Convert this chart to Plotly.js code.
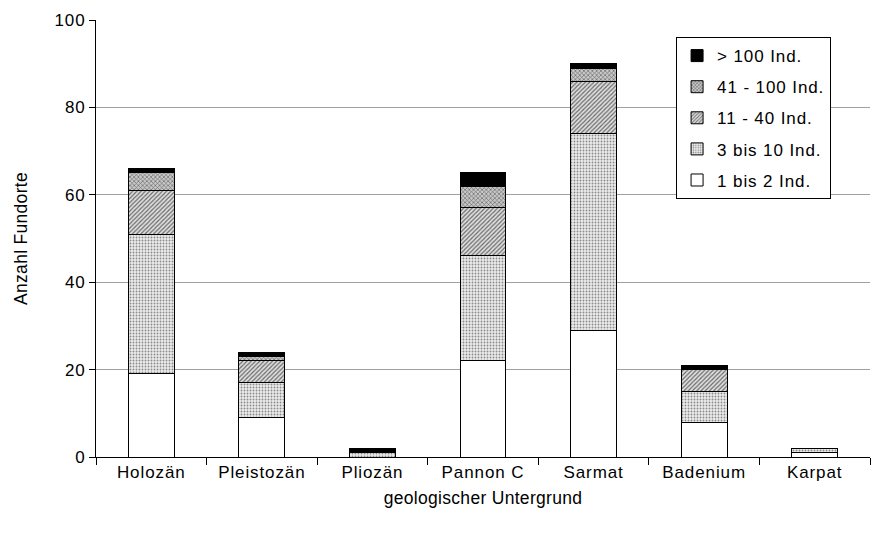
<!DOCTYPE html>
<html>
<head>
<meta charset="utf-8">
<script src="https://cdn.plot.ly/plotly-3.0.1.min.js"></script>
<style>
html,body{margin:0;padding:0;background:#fff;}
#chart{width:871px;height:536px;}
text {letter-spacing: 0.9px;}
text.xtitle, text.ytitle {letter-spacing: 0.3px;}
</style>
</head>
<body>
<div id="chart"></div>
<script>
const categories = ["Holozän", "Pleistozän", "Pliozän", "Pannon C", "Sarmat", "Badenium", "Karpat"];
const seriesNames = ["1 bis 2 Ind.", "3 bis 10 Ind.", "11 - 40 Ind.", "41 - 100 Ind.", "> 100 Ind."];
const ind1to2   = [19, 9, 0, 22, 29, 8, 1];
const ind3to10  = [32, 8, 1, 24, 45, 7, 1];
const ind11to40 = [10, 5, 0, 11, 12, 5, 0];
const ind41to100= [4, 1, 0, 5, 3, 0, 0];
const indOver100= [1, 1, 1, 3, 1, 1, 0];
const yTicks = [0, 20, 40, 60, 80, 100];
const gridTicks = [20, 40, 60, 80];

const values = [ind1to2, ind3to10, ind11to40, ind41to100, indOver100];
const styles = [
  {color: "#ffffff", pattern: {shape: ""}},
  {color: "#ffffff", pattern: {shape: ".", fgcolor: "#8a8a8a", bgcolor: "#ececec", size: 3, solidity: 0.3}},
  {color: "#ffffff", pattern: {shape: "/", fgcolor: "#6a6a6a", bgcolor: "#e0e0e0", size: 3, solidity: 0.4}},
  {color: "#ffffff", pattern: {shape: "x", fgcolor: "#6a6a6a", bgcolor: "#c8c8c8", size: 3, solidity: 0.4}},
  {color: "#000000", pattern: {shape: ""}}
];

const traces = values.map((v, i) => ({
  type: "bar",
  name: seriesNames[i],
  x: categories,
  y: v,
  legendgroup: "g" + i,
  legendrank: 10 - i,
  marker: {
    color: styles[i].color,
    pattern: styles[i].pattern,
    line: {color: "#000000", width: 1}
  },
  hoverinfo: "x+y+name"
}));

// invisible trace to drive grid axis
traces.push({type: "scatter", x: [categories[0]], y: [0], yaxis: "y2", mode: "none", showlegend: false, hoverinfo: "skip"});

const fam = "Liberation Sans, Arial, sans-serif";

const layout = {
  width: 871, height: 536,
  margin: {l: 96, r: 1, t: 20, b: 79},
  paper_bgcolor: "#fff", plot_bgcolor: "rgba(0,0,0,0)",
  font: {family: fam, size: 17, color: "#000"},
  barmode: "stack",
  bargap: 0.585,
  showlegend: true,
  legend: {
    x: 0.9497, y: 0.961, xanchor: "right", yanchor: "top",
    bordercolor: "#000", borderwidth: 1, bgcolor: "#fff",
    traceorder: "grouped",
    tracegroupgap: 6,
    font: {family: fam, size: 17, color: "#000"},
    itemwidth: 30
  },
  xaxis: {
    type: "category",
    showline: true, linecolor: "#000", linewidth: 1,
    ticks: "outside", tickson: "boundaries", ticklen: 7, tickcolor: "#000",
    showgrid: false, zeroline: false,
    tickfont: {size: 17},
    title: {text: "geologischer Untergrund", font: {size: 17.5}, standoff: 10}
  },
  yaxis: {
    range: [0, 100], tickvals: yTicks,
    showline: true, linecolor: "#000", linewidth: 1,
    ticks: "outside", ticklen: 6, tickcolor: "#000",
    showgrid: false, zeroline: false,
    tickfont: {size: 17},
    title: {text: "Anzahl Fundorte", font: {size: 17.5}, standoff: 22}
  },
  yaxis2: {
    overlaying: "y", range: [0, 100], tickvals: gridTicks,
    showgrid: true, gridcolor: "#a0a0a0", gridwidth: 1,
    showticklabels: false, ticks: "", zeroline: false, showline: false
  }
};

Plotly.newPlot("chart", traces, layout, {displayModeBar: false, staticPlot: true});
</script>
</body>
</html>
